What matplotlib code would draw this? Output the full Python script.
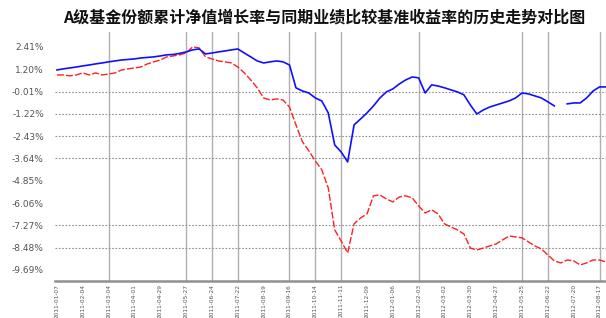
import numpy as np
import pandas as pd
import matplotlib
matplotlib.use("Agg")
import matplotlib.pyplot as plt

plt.rcParams['font.family'] = ['Noto Sans CJK SC', 'DejaVu Sans']

title = "A级基金份额累计净值增长率与同期业绩比较基准收益率的历史走势对比图"

# weekly observation dates (category axis)
dates = pd.date_range("2011-01-07", periods=86, freq="7D").strftime("%Y-%m-%d").tolist()

# fund cumulative NAV growth (%) - blue
fund = [1.16, 1.22, 1.27, 1.32, 1.38, 1.43, 1.49, 1.54, 1.60, 1.65,
        1.70, 1.73, 1.76, 1.81, 1.84, 1.87, 1.92, 1.98, 2.00, 2.06,
        2.14, 2.25, 2.30, 2.03, 2.08, 2.14, 2.19, 2.25, 2.30, 2.08,
        1.87, 1.65, 1.54, 1.60, 1.65, 1.60, 1.43, 0.19, 0.02, -0.09,
        -0.36, -0.52, -1.17, -2.91, -3.29, -3.83, -1.82, -1.50, -1.17, -0.79,
        -0.36, -0.03, 0.13, 0.40, 0.62, 0.78, 0.73, -0.09, 0.35, 0.29,
        0.19, 0.08, -0.03, -0.19, -0.74, -1.23, -1.01, -0.85, -0.74, -0.63,
        -0.52, -0.36, -0.09, -0.14, -0.25, -0.36, -0.57, -0.79, np.nan, -0.68,
        -0.63, -0.63, -0.36, 0.02, 0.24, 0.24]

# benchmark return (%) - red
bench = [0.89, 0.89, 0.84, 0.89, 1.00, 0.89, 1.00, 0.89, 0.94, 1.00,
         1.16, 1.22, 1.27, 1.32, 1.49, 1.60, 1.70, 1.87, 1.92, 1.98,
         2.08, 2.41, 2.36, 1.87, 1.76, 1.65, 1.60, 1.54, 1.32, 1.00,
         0.62, 0.19, -0.36, -0.47, -0.41, -0.47, -0.85, -1.82, -2.74, -3.23,
         -3.78, -4.26, -5.24, -7.52, -8.12, -8.77, -7.19, -6.87, -6.65, -5.67,
         -5.62, -5.84, -6.00, -5.73, -5.67, -5.78, -6.22, -6.60, -6.43, -6.65,
         -7.19, -7.36, -7.52, -7.74, -8.50, -8.61, -8.50, -8.39, -8.28, -8.06,
         -7.85, -7.90, -7.95, -8.17, -8.39, -8.55, -8.88, -9.20, -9.31, -9.15,
         -9.20, -9.42, -9.31, -9.15, -9.15, -9.26]

ytick_values = [2.41, 1.20, -0.01, -1.22, -2.43, -3.64, -4.85, -6.06, -7.27, -8.48, -9.69]
ygrid_values = [-0.01, -1.22, -2.43, -3.64, -7.27, -8.48]
xtick_labels = dates[::4]
vline_labels = [xtick_labels[i] for i in [2, 5, 6, 7, 9, 10, 11, 14, 18, 19, 21]]

fig = plt.figure(figsize=(6.06, 3.18), dpi=100)
ax = fig.add_axes([0.0908, 0.1164, 0.9092, 0.783])

x = np.arange(len(dates))
for lab in vline_labels:
    ax.axvline(dates.index(lab), color='#b0b0b0', lw=1.0, zorder=1)
for v in ygrid_values:
    ax.axhline(v, color='#909090', lw=0.8, ls=(0, (1.5, 1.5)), zorder=1)

ax.plot(x, fund, color='#1010ff', lw=1.2, zorder=3)
ax.plot(x, bench, color='#ff2020', lw=1.0, dashes=(5, 1.5), zorder=2)

ax.set_xlim(-0.3, 85.0)
ax.set_ylim(-10.29, 3.22)
ax.set_yticks(ytick_values)
ax.set_yticklabels([f"{v:.2f}%" for v in ytick_values], fontsize=6.5, color='#555555',
                   family='DejaVu Sans')
ax.set_xticks(x[::4])
ax.set_xticklabels(xtick_labels, rotation=90, fontsize=4.2, color='#555555', family='DejaVu Sans')
ax.tick_params(axis='both', length=0, pad=8)
ax.tick_params(axis='x', pad=2)
for s in ['top', 'right', 'left']:
    ax.spines[s].set_visible(False)
ax.spines['bottom'].set_color('#909090')
ax.spines['bottom'].set_linewidth(1.8)

fig.text(0.535, 0.945, title, ha='center', va='center', fontsize=11.5, fontweight='bold',
         color='#111111')

fig.savefig("out.png", dpi=100)
